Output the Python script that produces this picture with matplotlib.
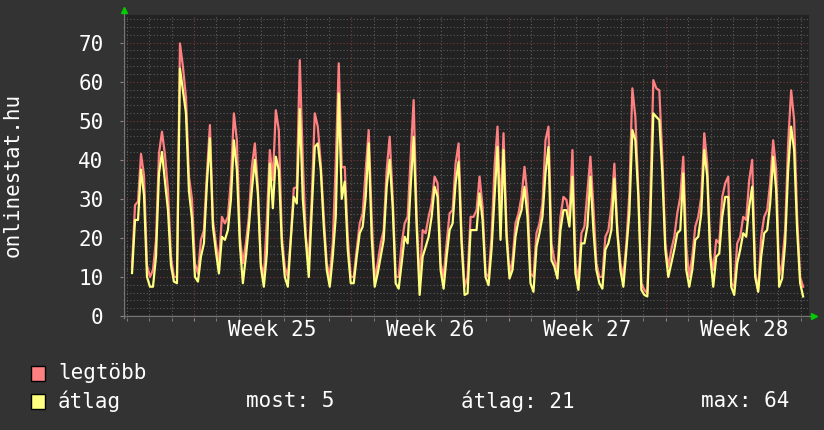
import matplotlib
matplotlib.use("Agg")
import matplotlib.pyplot as plt
import numpy as np
from matplotlib.patches import Rectangle

# --------------------------------------------------------------------------- #
# Data (one sample every ~3.2 h)
# --------------------------------------------------------------------------- #
START_H = -66.2          # first sample, hours relative to start of week 25
STEP_H = 3.2             # hours between samples

legtobb = [
    12.5, 28.4, 29.3, 41.5, 36.0, 13.0, 10.0, 11.8, 19.5, 41.6, 47.2, 41.2,
    32.3, 15.2, 10.0, 10.0, 69.8, 63.8, 56.0, 35.7, 30.0, 13.5, 10.9, 19.5,
    22.0, 36.5, 48.9, 24.6, 18.6, 13.5, 25.4, 23.7, 25.4, 34.8, 51.9, 45.0,
    20.3, 13.5, 18.6, 25.4, 38.2, 44.2, 33.0, 13.5, 10.0, 24.6, 42.5, 34.8,
    52.7, 47.6, 20.3, 12.6, 10.0, 20.3, 32.7, 33.0, 65.5, 40.0, 20.3, 14.3,
    30.5, 51.9, 48.5, 39.0, 25.4, 13.5, 10.0, 18.6, 39.0, 64.7, 38.0, 38.2,
    20.3, 10.0,
    10.0, 17.0, 23.7, 26.3, 37.4, 47.6, 25.0, 9.2, 13.5, 18.6, 22.0, 37.4,
    45.9, 30.5, 10.0, 10.0, 18.6, 23.7, 25.4, 40.8, 55.3, 25.4, 8.4, 22.0,
    21.2, 25.4, 28.8, 35.7, 34.0, 13.5, 10.0, 18.6, 26.3, 27.1, 39.0, 44.2,
    20.3, 7.5,
    10.0, 25.4, 25.4, 27.1, 35.7, 28.0, 10.9, 10.0, 20.3, 38.2, 48.5, 26.3,
    46.8, 22.0, 10.9, 14.3, 23.7, 26.3, 30.5, 38.2, 30.5, 10.9, 10.0, 21.2,
    23.7, 28.8, 45.0, 48.5, 18.6, 14.3, 11.8, 25.4, 30.5, 29.7, 25.4, 42.5,
    13.5, 9.2,
    21.2, 22.9, 32.0, 40.8, 28.0, 13.5, 10.0, 10.0, 20.3, 22.0, 28.0, 39.0,
    22.0, 13.5, 10.0, 18.6, 31.4, 58.3, 51.0, 32.3, 8.4, 6.7, 5.8, 30.5,
    60.4, 58.3, 57.8, 40.8, 18.6, 12.6, 17.0, 20.3, 26.3, 30.5, 40.8, 17.7,
    10.0,
    15.2, 22.9, 25.4, 30.5, 46.8, 39.0, 16.0, 11.8, 19.5, 18.6, 30.5, 34.0,
    35.7, 8.4, 7.5, 18.6, 20.3, 25.4, 24.6, 34.8, 40.0, 10.9, 6.7, 20.3,
    25.4, 27.1, 34.0, 45.0, 37.4, 10.0, 13.5, 22.0, 44.2, 57.8, 50.2, 25.4,
    10.0, 7.5,
]

atlag = [
    11.0, 24.6, 24.6, 37.5, 31.0, 10.0, 7.5, 7.5, 15.2, 36.5, 42.0, 34.4,
    27.1, 13.0, 8.8, 8.4, 63.4, 57.8, 52.0, 32.0, 25.0, 10.0, 8.8, 15.2,
    18.6, 34.0, 45.5, 22.9, 16.5, 10.9, 20.3, 19.5, 22.0, 29.7, 45.0, 37.4,
    18.2, 8.4, 15.2, 22.9, 32.3, 40.0, 31.4, 12.6, 7.5, 16.0, 39.0, 27.6,
    40.8, 37.4, 18.6, 10.0, 7.5, 19.5, 30.5, 28.8, 53.0, 30.0, 19.5, 10.0,
    27.1, 43.3, 44.2, 37.4, 22.9, 11.8, 7.5, 15.2, 25.4, 57.0, 30.0, 34.4,
    17.0, 8.4,
    8.4, 15.2, 21.2, 22.9, 30.5, 44.2, 20.0, 7.5, 10.9, 15.2, 19.5, 33.1,
    40.0, 28.0, 8.4, 7.0, 13.5, 20.3, 18.6, 33.1, 45.9, 22.9, 5.4, 15.2,
    17.7, 20.3, 25.4, 33.1, 30.5, 11.8, 7.0, 15.2, 22.0, 23.7, 34.0, 39.5,
    18.6, 5.4,
    5.8, 22.0, 22.0, 22.0, 31.4, 24.6, 10.0, 7.9, 17.0, 30.5, 43.3, 19.5,
    42.5, 20.3, 9.6, 11.8, 20.3, 24.6, 27.1, 33.1, 25.4, 8.4, 6.2, 17.7,
    21.2, 25.4, 36.5, 43.3, 14.3, 12.6, 9.6, 22.0, 27.1, 27.1, 22.9, 35.7,
    10.9, 6.7,
    18.6, 18.6, 23.0, 35.7, 22.0, 11.8, 8.4, 7.0, 17.0, 18.6, 22.0, 35.2,
    21.2, 11.8, 7.5, 17.0, 26.3, 47.6, 45.0, 30.5, 6.7, 5.4, 5.0, 24.6,
    51.9, 51.0, 50.2, 36.5, 17.0, 10.0, 13.5, 17.0, 21.2, 22.0, 36.5, 11.8,
    7.5,
    11.8, 19.5, 20.3, 26.3, 42.5, 35.7, 15.2, 7.5, 15.2, 16.0, 25.4, 30.5,
    30.5, 7.5, 5.4, 13.5, 17.0, 21.2, 20.3, 28.0, 33.1, 10.0, 6.2, 15.2,
    21.2, 22.0, 28.8, 40.8, 32.3, 7.5, 9.6, 18.6, 37.4, 48.5, 42.5, 22.0,
    8.4, 5.0,
]

WEEKS = ["Week 25", "Week 26", "Week 27", "Week 28"]
SERIES_LABELS = ["legtöbb", "átlag"]
STATS = ["most: 5", "átlag: 21", "max: 64"]
Y_TITLE = "onlinestat.hu"

# --------------------------------------------------------------------------- #
# Style
# --------------------------------------------------------------------------- #
BG = "#333333"
PLOT_BG = "#222222"
RED = "#ff8080"
YELLOW = "#ffff80"
GRID = "#5c5c5c"
MGRID = "#7a3a3a"
ARROW = "#00cc00"
FONT = "DejaVu Sans Mono"
FS = 15

plt.rcParams["font.family"] = FONT

W, H = 824, 430
fig = plt.figure(figsize=(W / 100, H / 100), dpi=100, facecolor=BG)

L, R, T, B = 123, 809, 15, 318
ax = fig.add_axes([L / W, (H - B) / H, (R - L) / W, (B - T) / H], facecolor=PLOT_BG)

PX_PER_H = 22.47 / 24.0
PX_PER_V = 3.905
X0_PX = 194  # start of week 25
ax.set_xlim((L - X0_PX) / PX_PER_H, (R - X0_PX) / PX_PER_H)
ax.set_ylim(-(B - 316) / PX_PER_V, (316 - T) / PX_PER_V)

t = START_H + STEP_H * np.arange(len(legtobb))
ax.plot(t, legtobb, color=RED, lw=1.6, zorder=3)
ax.plot(t, atlag, color=YELLOW, lw=1.6, zorder=4)

# grid
week_h = 168
ax.set_xticks([week_h * i for i in range(4)])
ax.set_xticks(np.arange(-72, 660, 24), minor=True)
ax.set_yticks(np.arange(0, 71, 10))
ax.set_yticks(np.arange(0, 77, 2), minor=True)
ax.grid(which="minor", color=GRID, lw=0.8, ls=(0, (1, 2)), zorder=1)
ax.grid(which="major", color=MGRID, lw=0.8, ls=(0, (1, 2)), zorder=2)
ax.set_axisbelow(True)
ax.set_xticklabels([])
ax.tick_params(axis="y", which="major", length=2, color="#888888", pad=12,
               labelsize=FS, labelcolor="white")
ax.tick_params(axis="y", which="minor", length=0)
ax.tick_params(axis="x", which="both", length=2, color="#888888")
for s in ax.spines.values():
    s.set_visible(False)

# axis lines + arrows
ax.plot([0.0015, 0.0015], [0, 1.01], transform=ax.transAxes, color="#777777",
        lw=1, clip_on=False, zorder=5)
ax.plot([0, 1.005], [0.0066, 0.0066], transform=ax.transAxes, color="#777777",
        lw=1, clip_on=False, zorder=5)
ax.plot([0.0015], [1.017], transform=ax.transAxes, marker="^", ms=4,
        color=ARROW, clip_on=False, zorder=6)
ax.plot([1.008], [0.0066], transform=ax.transAxes, marker=">", ms=4,
        color=ARROW, clip_on=False, zorder=6)

# week labels centred in each week
for i, lab in enumerate(WEEKS):
    ax.text(week_h * i + week_h / 2, -0.04, lab, transform=ax.get_xaxis_transform(),
            ha="center", va="center", fontsize=FS, color="white")

fig.text(13 / W, 1 - 175 / H, Y_TITLE, rotation=90, ha="center", va="center",
         fontsize=FS, color="white")

# legend
for (lab, col, yc) in [(SERIES_LABELS[0], RED, 373), (SERIES_LABELS[1], YELLOW, 401)]:
    fig.add_artist(Rectangle((31 / W, 1 - (yc + 7.5) / H), 14 / W, 15 / H,
                             transform=fig.transFigure, facecolor=col,
                             edgecolor="black", lw=1))
    fig.text(58 / W, 1 - yc / H, lab, ha="left", va="center", fontsize=FS, color="white")

for lab, x in zip(STATS, [246, 461, 701]):
    fig.text(x / W, 1 - 401 / H, lab, ha="left", va="center", fontsize=FS, color="white")

fig.savefig("out.png", dpi=100, facecolor=BG)
